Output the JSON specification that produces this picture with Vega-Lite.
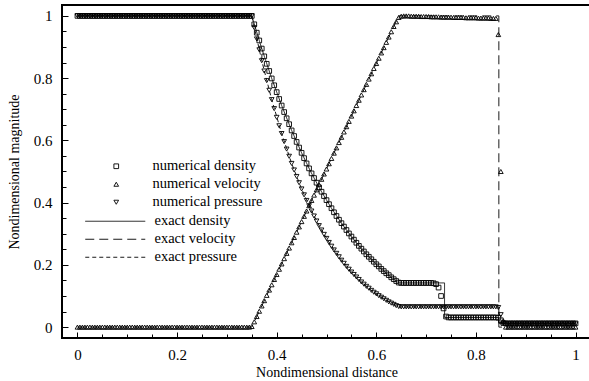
{
  "$schema": "https://vega.github.io/schema/vega-lite/v6.json",
  "width": 529,
  "height": 333,
  "autosize": "none",
  "padding": {"left": 62, "top": 5, "right": 0, "bottom": 43},
  "config": {
    "font": "Liberation Serif, Times New Roman, serif",
    "view": {"stroke": "black", "strokeWidth": 2},
    "axis": {
      "domain": false,
      "grid": false,
      "labelFont": "Liberation Serif, Times New Roman, serif",
      "labelFontSize": 15,
      "labelColor": "black",
      "tickColor": "black",
      "tickWidth": 1,
      "titleFont": "Liberation Serif, Times New Roman, serif",
      "titleFontSize": 14,
      "titleFontWeight": "normal",
      "titleColor": "black"
    },
    "legend": {
      "labelFont": "Liberation Serif, Times New Roman, serif",
      "labelFontSize": 14.5,
      "labelColor": "black",
      "padding": 0,
      "rowPadding": 3
    }
  },
  "datasets": {
    "numerical": [
      {"x":0,"d":1,"u":0,"p":1},{"x":0.005,"d":1,"u":0,"p":1},{"x":0.01,"d":1,"u":0,"p":1},{"x":0.015,"d":1,"u":0,"p":1},{"x":0.02,"d":1,"u":0,"p":1},
      {"x":0.025,"d":1,"u":0,"p":1},{"x":0.03,"d":1,"u":0,"p":1},{"x":0.035,"d":1,"u":0,"p":1},{"x":0.04,"d":1,"u":0,"p":1},{"x":0.045,"d":1,"u":0,"p":1},
      {"x":0.05,"d":1,"u":0,"p":1},{"x":0.055,"d":1,"u":0,"p":1},{"x":0.06,"d":1,"u":0,"p":1},{"x":0.065,"d":1,"u":0,"p":1},{"x":0.07,"d":1,"u":0,"p":1},
      {"x":0.075,"d":1,"u":0,"p":1},{"x":0.08,"d":1,"u":0,"p":1},{"x":0.085,"d":1,"u":0,"p":1},{"x":0.09,"d":1,"u":0,"p":1},{"x":0.095,"d":1,"u":0,"p":1},
      {"x":0.1,"d":1,"u":0,"p":1},{"x":0.105,"d":1,"u":0,"p":1},{"x":0.11,"d":1,"u":0,"p":1},{"x":0.115,"d":1,"u":0,"p":1},{"x":0.12,"d":1,"u":0,"p":1},
      {"x":0.125,"d":1,"u":0,"p":1},{"x":0.13,"d":1,"u":0,"p":1},{"x":0.135,"d":1,"u":0,"p":1},{"x":0.14,"d":1,"u":0,"p":1},{"x":0.145,"d":1,"u":0,"p":1},
      {"x":0.15,"d":1,"u":0,"p":1},{"x":0.155,"d":1,"u":0,"p":1},{"x":0.16,"d":1,"u":0,"p":1},{"x":0.165,"d":1,"u":0,"p":1},{"x":0.17,"d":1,"u":0,"p":1},
      {"x":0.175,"d":1,"u":0,"p":1},{"x":0.18,"d":1,"u":0,"p":1},{"x":0.185,"d":1,"u":0,"p":1},{"x":0.19,"d":1,"u":0,"p":1},{"x":0.195,"d":1,"u":0,"p":1},
      {"x":0.2,"d":1,"u":0,"p":1},{"x":0.205,"d":1,"u":0,"p":1},{"x":0.21,"d":1,"u":0,"p":1},{"x":0.215,"d":1,"u":0,"p":1},{"x":0.22,"d":1,"u":0,"p":1},
      {"x":0.225,"d":1,"u":0,"p":1},{"x":0.23,"d":1,"u":0,"p":1},{"x":0.235,"d":1,"u":0,"p":1},{"x":0.24,"d":1,"u":0,"p":1},{"x":0.245,"d":1,"u":0,"p":1},
      {"x":0.25,"d":1,"u":0,"p":1},{"x":0.255,"d":1,"u":0,"p":1},{"x":0.26,"d":1,"u":0,"p":1},{"x":0.265,"d":1,"u":0,"p":1},{"x":0.27,"d":1,"u":0,"p":1},
      {"x":0.275,"d":1,"u":0,"p":1},{"x":0.28,"d":1,"u":0,"p":1},{"x":0.285,"d":1,"u":0,"p":1},{"x":0.29,"d":1,"u":0,"p":1},{"x":0.295,"d":1,"u":0,"p":1},
      {"x":0.3,"d":1,"u":0,"p":1},{"x":0.305,"d":1,"u":0,"p":1},{"x":0.31,"d":1,"u":0,"p":1},{"x":0.315,"d":1,"u":0,"p":1},{"x":0.32,"d":1,"u":0,"p":1},
      {"x":0.325,"d":1,"u":0,"p":1},{"x":0.33,"d":1,"u":0,"p":1},{"x":0.335,"d":1,"u":0,"p":1},{"x":0.34,"d":1,"u":0,"p":1},{"x":0.345,"d":1,"u":0,"p":1},
      {"x":0.35,"d":1,"u":0.002,"p":1},{"x":0.355,"d":0.973,"u":0.017,"p":0.962},{"x":0.36,"d":0.946,"u":0.034,"p":0.926},{"x":0.365,"d":0.921,"u":0.051,"p":0.891},
      {"x":0.37,"d":0.895,"u":0.068,"p":0.856},{"x":0.375,"d":0.87,"u":0.085,"p":0.823},{"x":0.38,"d":0.846,"u":0.102,"p":0.792},{"x":0.385,"d":0.823,"u":0.119,"p":0.761},
      {"x":0.39,"d":0.799,"u":0.136,"p":0.731},{"x":0.395,"d":0.777,"u":0.153,"p":0.702},{"x":0.4,"d":0.755,"u":0.169,"p":0.674},{"x":0.405,"d":0.733,"u":0.186,"p":0.647},
      {"x":0.41,"d":0.712,"u":0.203,"p":0.622},{"x":0.415,"d":0.691,"u":0.22,"p":0.596},{"x":0.42,"d":0.671,"u":0.237,"p":0.572},{"x":0.425,"d":0.652,"u":0.254,"p":0.549},
      {"x":0.43,"d":0.632,"u":0.271,"p":0.526},{"x":0.435,"d":0.614,"u":0.288,"p":0.505},{"x":0.44,"d":0.595,"u":0.305,"p":0.484},{"x":0.445,"d":0.577,"u":0.322,"p":0.464},
      {"x":0.45,"d":0.56,"u":0.339,"p":0.444},{"x":0.455,"d":0.543,"u":0.356,"p":0.425},{"x":0.46,"d":0.526,"u":0.373,"p":0.407},{"x":0.465,"d":0.51,"u":0.39,"p":0.39},
      {"x":0.47,"d":0.494,"u":0.407,"p":0.373},{"x":0.475,"d":0.479,"u":0.424,"p":0.357},{"x":0.48,"d":0.464,"u":0.441,"p":0.341},{"x":0.485,"d":0.449,"u":0.458,"p":0.326},
      {"x":0.49,"d":0.435,"u":0.475,"p":0.312},{"x":0.495,"d":0.421,"u":0.492,"p":0.298},{"x":0.5,"d":0.408,"u":0.508,"p":0.285},{"x":0.505,"d":0.395,"u":0.525,"p":0.272},
      {"x":0.51,"d":0.382,"u":0.542,"p":0.26},{"x":0.515,"d":0.369,"u":0.559,"p":0.248},{"x":0.52,"d":0.357,"u":0.576,"p":0.237},{"x":0.525,"d":0.345,"u":0.593,"p":0.226},
      {"x":0.53,"d":0.334,"u":0.61,"p":0.215},{"x":0.535,"d":0.323,"u":0.627,"p":0.205},{"x":0.54,"d":0.312,"u":0.644,"p":0.195},{"x":0.545,"d":0.301,"u":0.661,"p":0.186},
      {"x":0.55,"d":0.291,"u":0.678,"p":0.177},{"x":0.555,"d":0.281,"u":0.695,"p":0.169},{"x":0.56,"d":0.271,"u":0.712,"p":0.161},{"x":0.565,"d":0.261,"u":0.729,"p":0.153},
      {"x":0.57,"d":0.252,"u":0.746,"p":0.145},{"x":0.575,"d":0.243,"u":0.763,"p":0.138},{"x":0.58,"d":0.234,"u":0.78,"p":0.131},{"x":0.585,"d":0.226,"u":0.797,"p":0.125},
      {"x":0.59,"d":0.218,"u":0.814,"p":0.118},{"x":0.595,"d":0.21,"u":0.831,"p":0.112},{"x":0.6,"d":0.202,"u":0.847,"p":0.107},{"x":0.605,"d":0.195,"u":0.864,"p":0.101},
      {"x":0.61,"d":0.187,"u":0.881,"p":0.096},{"x":0.615,"d":0.18,"u":0.898,"p":0.091},{"x":0.62,"d":0.173,"u":0.915,"p":0.086},{"x":0.625,"d":0.167,"u":0.932,"p":0.081},
      {"x":0.63,"d":0.16,"u":0.949,"p":0.077},{"x":0.635,"d":0.154,"u":0.966,"p":0.073},{"x":0.64,"d":0.148,"u":0.981,"p":0.069},{"x":0.645,"d":0.143,"u":0.995,"p":0.066},
      {"x":0.65,"d":0.142,"u":0.999,"p":0.065},{"x":0.655,"d":0.142,"u":1,"p":0.065},{"x":0.66,"d":0.142,"u":1,"p":0.065},{"x":0.665,"d":0.142,"u":1,"p":0.065},
      {"x":0.67,"d":0.142,"u":0.999,"p":0.065},{"x":0.675,"d":0.142,"u":0.999,"p":0.065},{"x":0.68,"d":0.142,"u":0.999,"p":0.065},{"x":0.685,"d":0.142,"u":0.999,"p":0.065},
      {"x":0.69,"d":0.142,"u":0.998,"p":0.065},{"x":0.695,"d":0.142,"u":0.998,"p":0.065},{"x":0.7,"d":0.142,"u":0.998,"p":0.065},{"x":0.705,"d":0.142,"u":0.998,"p":0.065},
      {"x":0.71,"d":0.142,"u":0.997,"p":0.065},{"x":0.715,"d":0.141,"u":0.997,"p":0.065},{"x":0.72,"d":0.138,"u":0.997,"p":0.065},{"x":0.725,"d":0.127,"u":0.997,"p":0.065},
      {"x":0.73,"d":0.1,"u":0.996,"p":0.065},{"x":0.735,"d":0.06,"u":0.996,"p":0.065},{"x":0.74,"d":0.034,"u":0.996,"p":0.065},{"x":0.745,"d":0.031,"u":0.996,"p":0.065},
      {"x":0.75,"d":0.031,"u":0.996,"p":0.065},{"x":0.755,"d":0.031,"u":0.995,"p":0.065},{"x":0.76,"d":0.031,"u":0.995,"p":0.065},{"x":0.765,"d":0.031,"u":0.995,"p":0.065},
      {"x":0.77,"d":0.031,"u":0.995,"p":0.065},{"x":0.775,"d":0.031,"u":0.995,"p":0.065},{"x":0.78,"d":0.031,"u":0.994,"p":0.065},{"x":0.785,"d":0.031,"u":0.994,"p":0.065},
      {"x":0.79,"d":0.031,"u":0.994,"p":0.065},{"x":0.795,"d":0.031,"u":0.994,"p":0.065},{"x":0.8,"d":0.031,"u":0.994,"p":0.065},{"x":0.805,"d":0.031,"u":0.993,"p":0.065},
      {"x":0.81,"d":0.031,"u":0.993,"p":0.065},{"x":0.815,"d":0.031,"u":0.993,"p":0.065},{"x":0.82,"d":0.031,"u":0.993,"p":0.065},{"x":0.825,"d":0.031,"u":0.993,"p":0.065},
      {"x":0.83,"d":0.031,"u":0.992,"p":0.065},{"x":0.835,"d":0.031,"u":0.992,"p":0.065},{"x":0.84,"d":0.031,"u":0.992,"p":0.065},{"x":0.845,"d":0.03,"u":0.94,"p":0.063},
      {"x":0.85,"d":0.022,"u":0.5,"p":0.04},{"x":0.855,"d":0.013,"u":0.02,"p":0.012},{"x":0.86,"d":0.012,"u":0,"p":0.01},{"x":0.865,"d":0.012,"u":0,"p":0.01},
      {"x":0.87,"d":0.012,"u":0,"p":0.01},{"x":0.875,"d":0.012,"u":0,"p":0.01},{"x":0.88,"d":0.012,"u":0,"p":0.01},{"x":0.885,"d":0.012,"u":0,"p":0.01},
      {"x":0.89,"d":0.012,"u":0,"p":0.01},{"x":0.895,"d":0.012,"u":0,"p":0.01},{"x":0.9,"d":0.012,"u":0,"p":0.01},{"x":0.905,"d":0.012,"u":0,"p":0.01},
      {"x":0.91,"d":0.012,"u":0,"p":0.01},{"x":0.915,"d":0.012,"u":0,"p":0.01},{"x":0.92,"d":0.012,"u":0,"p":0.01},{"x":0.925,"d":0.012,"u":0,"p":0.01},
      {"x":0.93,"d":0.012,"u":0,"p":0.01},{"x":0.935,"d":0.012,"u":0,"p":0.01},{"x":0.94,"d":0.012,"u":0,"p":0.01},{"x":0.945,"d":0.012,"u":0,"p":0.01},
      {"x":0.95,"d":0.012,"u":0,"p":0.01},{"x":0.955,"d":0.012,"u":0,"p":0.01},{"x":0.96,"d":0.012,"u":0,"p":0.01},{"x":0.965,"d":0.012,"u":0,"p":0.01},
      {"x":0.97,"d":0.012,"u":0,"p":0.01},{"x":0.975,"d":0.012,"u":0,"p":0.01},{"x":0.98,"d":0.012,"u":0,"p":0.01},{"x":0.985,"d":0.012,"u":0,"p":0.01},
      {"x":0.99,"d":0.012,"u":0,"p":0.01},{"x":0.995,"d":0.012,"u":0,"p":0.01},{"x":1,"d":0.012,"u":0,"p":0.01}
    ],
    "exact": [
      {"s":"exact density","i":0,"x":0,"y":1},{"s":"exact density","i":1,"x":0.35,"y":1},
      {"s":"exact density","i":2,"x":0.37,"y":0.895},{"s":"exact density","i":3,"x":0.39,"y":0.799},
      {"s":"exact density","i":4,"x":0.41,"y":0.712},{"s":"exact density","i":5,"x":0.43,"y":0.632},
      {"s":"exact density","i":6,"x":0.45,"y":0.56},{"s":"exact density","i":7,"x":0.47,"y":0.494},
      {"s":"exact density","i":8,"x":0.49,"y":0.435},{"s":"exact density","i":9,"x":0.51,"y":0.382},
      {"s":"exact density","i":10,"x":0.53,"y":0.334},{"s":"exact density","i":11,"x":0.55,"y":0.291},
      {"s":"exact density","i":12,"x":0.57,"y":0.252},{"s":"exact density","i":13,"x":0.59,"y":0.218},
      {"s":"exact density","i":14,"x":0.61,"y":0.187},{"s":"exact density","i":15,"x":0.63,"y":0.16},
      {"s":"exact density","i":16,"x":0.645,"y":0.142},{"s":"exact density","i":17,"x":0.737,"y":0.142},
      {"s":"exact density","i":18,"x":0.737,"y":0.031},{"s":"exact density","i":19,"x":0.846,"y":0.031},
      {"s":"exact density","i":20,"x":0.846,"y":0.012},{"s":"exact density","i":21,"x":1,"y":0.012},
      {"s":"exact velocity","i":0,"x":0,"y":0},{"s":"exact velocity","i":1,"x":0.35,"y":0},
      {"s":"exact velocity","i":2,"x":0.645,"y":1},{"s":"exact velocity","i":3,"x":0.846,"y":1},
      {"s":"exact velocity","i":4,"x":0.846,"y":0},{"s":"exact velocity","i":5,"x":1,"y":0},
      {"s":"exact pressure","i":0,"x":0,"y":1},{"s":"exact pressure","i":1,"x":0.35,"y":1},
      {"s":"exact pressure","i":2,"x":0.37,"y":0.856},{"s":"exact pressure","i":3,"x":0.39,"y":0.731},
      {"s":"exact pressure","i":4,"x":0.41,"y":0.622},{"s":"exact pressure","i":5,"x":0.43,"y":0.526},
      {"s":"exact pressure","i":6,"x":0.45,"y":0.444},{"s":"exact pressure","i":7,"x":0.47,"y":0.373},
      {"s":"exact pressure","i":8,"x":0.49,"y":0.312},{"s":"exact pressure","i":9,"x":0.51,"y":0.26},
      {"s":"exact pressure","i":10,"x":0.53,"y":0.215},{"s":"exact pressure","i":11,"x":0.55,"y":0.177},
      {"s":"exact pressure","i":12,"x":0.57,"y":0.145},{"s":"exact pressure","i":13,"x":0.59,"y":0.118},
      {"s":"exact pressure","i":14,"x":0.61,"y":0.096},{"s":"exact pressure","i":15,"x":0.63,"y":0.077},
      {"s":"exact pressure","i":16,"x":0.645,"y":0.065},{"s":"exact pressure","i":17,"x":0.846,"y":0.065},
      {"s":"exact pressure","i":18,"x":0.846,"y":0.01},{"s":"exact pressure","i":19,"x":1,"y":0.01}
    ]
  },
  "layer": [
    {
      "data": {"name": "exact"},
      "mark": {"type": "line", "strokeWidth": 1, "color": "#1a1a1a"},
      "encoding": {
        "x": {
          "field": "x", "type": "quantitative",
          "scale": {"domain": [-0.031, 1.031], "nice": false, "zero": false},
          "axis": {"orient": "bottom", "values": [0.05,0.1,0.15,0.25,0.3,0.35,0.45,0.5,0.55,0.65,0.7,0.75,0.85,0.9,0.95], "labels": false, "tickSize": -4, "title": null}
        },
        "y": {
          "field": "y", "type": "quantitative",
          "scale": {"domain": [-0.035, 1.035], "nice": false, "zero": false},
          "axis": {"orient": "left", "values": [0.05,0.1,0.15,0.25,0.3,0.35,0.45,0.5,0.55,0.65,0.7,0.75,0.85,0.9,0.95], "labels": false, "tickSize": -4, "title": null}
        },
        "strokeDash": {
          "field": "s", "type": "nominal",
          "scale": {"domain": ["exact density", "exact velocity", "exact pressure"], "range": [[1, 0], [9, 5], [4, 3]]},
          "legend": {
            "orient": "none", "legendX": 46, "legendY": 209, "title": null,
            "symbolType": "M-6,0H6", "symbolSize": 100, "symbolStrokeWidth": 1, "symbolStrokeColor": "#1a1a1a",
            "labelOffset": 32
          }
        },
        "order": {"field": "i", "type": "quantitative"}
      }
    },
    {
      "data": {"name": "numerical"},
      "transform": [{"fold": ["d", "u", "p"], "as": ["q", "v"]}],
      "mark": {"type": "point", "filled": false, "stroke": "black", "strokeWidth": 0.9, "size": 22, "opacity": 1},
      "encoding": {
        "x": {
          "field": "x", "type": "quantitative",
          "scale": {"domain": [-0.031, 1.031], "nice": false, "zero": false},
          "axis": {"orient": "bottom", "values": [0, 0.2, 0.4, 0.6, 0.8, 1], "format": "~g", "tickSize": -6, "labelPadding": 15, "title": "Nondimensional distance", "titlePadding": 3}
        },
        "y": {
          "field": "v", "type": "quantitative",
          "scale": {"domain": [-0.035, 1.035], "nice": false, "zero": false},
          "axis": {"orient": "left", "values": [0, 0.2, 0.4, 0.6, 0.8, 1], "format": "~g", "tickSize": -6, "labelPadding": 16, "title": "Nondimensional magnitude", "titlePadding": 12}
        },
        "shape": {
          "field": "q", "type": "nominal",
          "scale": {"domain": ["d", "u", "p"], "range": ["square", "triangle-up", "triangle-down"]},
          "legend": {
            "orient": "none", "legendX": 47, "legendY": 154, "title": null,
            "symbolSize": 22, "symbolStrokeColor": "black", "symbolStrokeWidth": 0.9, "symbolFillColor": "transparent",
            "labelOffset": 29,
            "labelExpr": "datum.value == 'd' ? 'numerical density' : datum.value == 'u' ? 'numerical velocity' : 'numerical pressure'"
          }
        }
      }
    }
  ],
  "resolve": {"axis": {"x": "independent", "y": "independent"}}
}
